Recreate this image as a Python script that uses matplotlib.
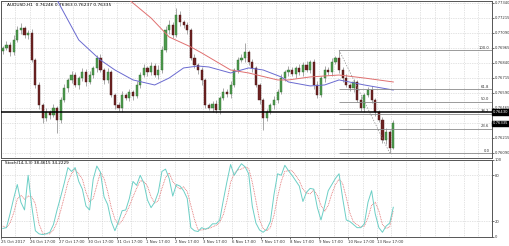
import matplotlib.pyplot as plt
import numpy as np

# AUDUSD, 3-hour bars (close prices)
closes = [0.76962, 0.76987, 0.76929, 0.77029, 0.77112, 0.77129, 0.77070, 0.77087, 0.76862, 0.76654,
          0.76487, 0.76379, 0.76429, 0.76404, 0.76462, 0.76362, 0.76529, 0.76629, 0.76696, 0.76737,
          0.76654, 0.76712, 0.76762, 0.76679, 0.76737, 0.76796, 0.76879, 0.76779, 0.76696, 0.76762,
          0.76571, 0.76487, 0.76462, 0.76571, 0.76546, 0.76596, 0.76562, 0.76654, 0.76737, 0.76796,
          0.76762, 0.76812, 0.76737, 0.76779, 0.76945, 0.77112, 0.77154, 0.77070, 0.77237, 0.77179,
          0.77154, 0.77112, 0.76879, 0.76821, 0.76779, 0.76696, 0.76487, 0.76462, 0.76496, 0.76446,
          0.76546, 0.76596, 0.76579, 0.76654, 0.76779, 0.76862, 0.76879, 0.76929, 0.76846, 0.76796,
          0.76654, 0.76529, 0.76379, 0.76429, 0.76487, 0.76529, 0.76596, 0.76712, 0.76762, 0.76779,
          0.76746, 0.76796, 0.76762, 0.76821, 0.76779, 0.76846, 0.76654, 0.76571, 0.76712, 0.76779,
          0.76762, 0.76846, 0.76879, 0.76779, 0.76712, 0.76654, 0.76629, 0.76679, 0.76529, 0.76462,
          0.76571, 0.76612, 0.76529, 0.76429, 0.76362, 0.76196, 0.76262, 0.76129, 0.76335]
first_open = 0.76940
# wick lengths in points (0.00001)
up_wick = [20, 35, 25, 40, 30, 45, 20, 25, 30, 15, 25, 20, 30, 15, 35, 20, 25, 30, 20, 35,
           25, 20, 30, 25, 35, 20, 25, 30, 20, 35, 15, 20, 25, 30, 20, 25, 15, 30, 25, 35,
           20, 30, 25, 40, 35, 30, 45, 25, 58, 30, 20, 25, 15, 30, 20, 25, 15, 20, 25, 30,
           20, 35, 25, 30, 20, 25, 35, 75, 20, 25, 15, 20, 15, 25, 20, 30, 25, 35, 20, 30,
           25, 20, 35, 25, 30, 20, 25, 30, 20, 35, 25, 30, 20, 66, 25, 30, 20, 25, 15, 30,
           20, 25, 30, 15, 20, 25, 30, 20, 28]
down_wick = [25, 20, 30, 25, 20, 35, 25, 30, 20, 25, 30, 42, 25, 30, 20, 108, 25, 20, 30, 25,
             20, 35, 25, 30, 20, 25, 30, 20, 35, 25, 20, 30, 25, 35, 20, 25, 30, 20, 25, 20,
             30, 25, 20, 35, 25, 20, 30, 25, 20, 35, 25, 30, 20, 25, 30, 40, 25, 20, 35, 25,
             30, 20, 25, 30, 20, 25, 20, 30, 25, 35, 20, 30, 100, 25, 20, 30, 25, 20, 25, 30,
             20, 35, 25, 30, 20, 25, 30, 25, 20, 35, 25, 30, 20, 25, 30, 20, 25, 35, 20, 25,
             30, 20, 25, 35, 20, 25, 30, 42, 9]

# moving averages (bar index, price)
blue_idx = [10, 15, 21, 27, 31, 36, 42, 46, 50, 54, 57, 63, 68, 72, 77, 79, 85, 89, 93, 100, 108]
blue_ma = [0.77545, 0.77362, 0.77029, 0.76862, 0.76779, 0.76696, 0.76654, 0.76712, 0.76796, 0.76812,
           0.76804, 0.76754, 0.76796, 0.76779, 0.76721, 0.76679, 0.76646, 0.76654, 0.76696, 0.76654, 0.76612]
red_idx = [32, 35, 41, 46, 52, 55, 63, 68, 76, 79, 85, 93, 100, 108]
red_ma = [0.77480, 0.77362, 0.77212, 0.77054, 0.76971, 0.76921, 0.76779, 0.76754, 0.76696, 0.76696,
          0.76721, 0.76737, 0.76712, 0.76679]

stoch_main = [11, 12, 30, 50, 68, 45, 35, 80, 40, 8, 4, 3, 4, 6, 16, 35, 52, 70, 90, 85,
              90, 72, 62, 40, 35, 75, 92, 84, 52, 42, 20, 8, 20, 34, 35, 50, 72, 67, 80, 70,
              48, 38, 45, 58, 85, 88, 76, 53, 68, 66, 60, 50, 12, 8, 7, 12, 10, 12, 17, 17,
              22, 48, 72, 94, 80, 88, 95, 91, 82, 40, 18, 9, 6, 10, 20, 55, 82, 80, 93, 86,
              80, 73, 66, 46, 58, 63, 62, 38, 22, 40, 60, 68, 76, 82, 50, 22, 20, 16, 12, 12,
              17, 45, 60, 30, 12, 6, 14, 18, 38.46]
stoch_signal = [14, 12, 18, 31, 49, 54, 49, 53, 52, 43, 17, 5, 4, 4, 9, 19, 34, 52, 71, 82,
                88, 82, 75, 58, 46, 50, 67, 84, 76, 59, 38, 23, 16, 21, 30, 40, 52, 63, 73, 72,
                66, 52, 44, 47, 63, 77, 83, 72, 66, 62, 65, 59, 41, 23, 9, 9, 10, 11, 13, 15,
                19, 29, 47, 71, 82, 87, 88, 91, 89, 71, 47, 22, 11, 8, 12, 28, 52, 72, 85, 86,
                86, 80, 73, 62, 57, 56, 61, 54, 41, 33, 41, 56, 68, 75, 69, 51, 31, 19, 16, 13,
                14, 25, 41, 45, 34, 16, 11, 13, 34.22]

price_ticks = [0.76090, 0.76215, 0.76340, 0.76465, 0.76590, 0.76715, 0.76840, 0.76965, 0.77090, 0.77215, 0.77340]
date_labels = ['25 Oct 2017', '26 Oct 17:00', '27 Oct 17:00', '30 Oct 17:00', '31 Oct 17:00', '1 Nov 17:00',
               '2 Nov 17:00', '3 Nov 17:00', '6 Nov 17:00', '7 Nov 17:00', '8 Nov 17:00', '9 Nov 17:00',
               '10 Nov 17:00', '13 Nov 17:00']
fib_levels = [0.0, 23.6, 38.2, 50.0, 61.8, 100.0]
fib_low, fib_high = 0.76087, 0.76945
fib_start, fib_end = 93, 107
support = 0.76430
last_price = 0.76335

opens = [first_open] + closes[:-1]
n = len(closes)
x = np.arange(n)
o = np.array(opens)
c = np.array(closes)
hi = np.maximum(o, c) + np.array(up_wick) * 1e-5
lo = np.minimum(o, c) - np.array(down_wick) * 1e-5

fig = plt.figure(figsize=(5.1, 2.46), dpi=100)
ax = fig.add_axes([0.002, 0.358, 0.962, 0.638])
ax2 = fig.add_axes([0.002, 0.037, 0.962, 0.313])
xlim = (-0.3, 135.2)
grid_kw = dict(color='#c8c8c8', linestyle=(0, (1, 1.5)), linewidth=0.5)
fs = 2.7

# price panel
ax.vlines(x, lo, hi, color='#9a9a9a', linewidth=0.6, zorder=2)
bull = c >= o
ax.bar(x[bull], np.maximum(c - o, 2e-5)[bull], bottom=o[bull], width=0.6,
       color='#4e9a4e', edgecolor='#2f6f2f', linewidth=0.3, zorder=3)
ax.bar(x[~bull], np.maximum(o - c, 2e-5)[~bull], bottom=c[~bull], width=0.6,
       color='#6e2222', edgecolor='#4a1515', linewidth=0.3, zorder=3)
ax.plot(blue_idx, blue_ma, color='#6a6ad0', linewidth=0.7, zorder=4)
ax.plot(red_idx, red_ma, color='#e07070', linewidth=0.7, zorder=4)

ax.axhline(support, color='black', linewidth=1.1, zorder=5)
for lev in fib_levels:
    p = fib_low + (fib_high - fib_low) * lev / 100
    ax.hlines(p, fib_start, xlim[1], color='#8a8a8a', linewidth=0.6, zorder=4)
    ax.text(xlim[1] - 0.6, p + 0.00003, '%.1f' % lev, fontsize=fs, ha='right', va='bottom', color='#333333')
ax.plot([fib_start, fib_end], [fib_high, fib_low], color='#8a8a8a', linestyle=(0, (2, 2)), linewidth=0.5, zorder=4)

ax.set_xlim(*xlim)
ax.set_ylim(0.76046, 0.77354)
ax.set_yticks(price_ticks)
# the 0.76340 label sits under the last-price box
ax.set_yticklabels(['' if abs(t - last_price) < 0.0001 else '%.5f' % t for t in price_ticks])
ax.yaxis.tick_right()
ax.tick_params(axis='y', labelsize=fs, length=1.5, width=0.5, pad=0.8, colors='#333333')
ax.set_xticks(np.arange(-0.5, xlim[1], 4))
ax.tick_params(axis='x', length=0, labelbottom=False)
ax.grid(True, **grid_kw)
ax.set_axisbelow(True)
for val in (support, last_price):
    ax.text(1.003, val, '%.5f' % val, transform=ax.get_yaxis_transform(), fontsize=fs, color='white',
            va='center', ha='left', bbox=dict(boxstyle='square,pad=0.2', fc='black', ec='black'))
ax.text(0.012, 0.985, 'AUDUSD,H1  0.76246 0.76363 0.76237 0.76335', transform=ax.transAxes,
        fontsize=3.2, va='top', ha='left', color='black')

# stochastic panel
ax2.plot(x, stoch_signal, color='#e06a6a', linewidth=0.6, linestyle=(0, (1, 1)))
ax2.plot(x, stoch_main, color='#6ccfc6', linewidth=0.7)
ax2.set_xlim(*xlim)
ax2.set_ylim(0, 100)
ax2.set_yticks([0, 20, 80, 100])
ax2.yaxis.tick_right()
ax2.tick_params(axis='y', labelsize=fs, length=1.5, width=0.5, pad=0.8, colors='#333333')
ax2.set_xticks(np.arange(-0.5, xlim[1], 4), minor=True)
ax2.set_xticks([-0.5 + 8 * k for k in range(len(date_labels))])
ax2.set_xticklabels(date_labels)
ax2.tick_params(axis='x', labelsize=2.8, length=1.5, width=0.5, pad=1, colors='#333333')
ax2.tick_params(axis='x', which='minor', length=0)
for t in ax2.get_xticklabels():
    t.set_ha('left')
ax2.grid(True, which='both', axis='x', **grid_kw)
ax2.grid(True, axis='y', **grid_kw)
ax2.set_axisbelow(True)
ax2.text(0.008, 0.98, 'Stoch(14,3,3) 38.4615 34.2229', transform=ax2.transAxes, fontsize=3.0,
         va='top', ha='left', color='black')

for a in (ax, ax2):
    for s in a.spines.values():
        s.set_color('#555555')
        s.set_linewidth(0.7)

fig.savefig('out.png', dpi=100)
